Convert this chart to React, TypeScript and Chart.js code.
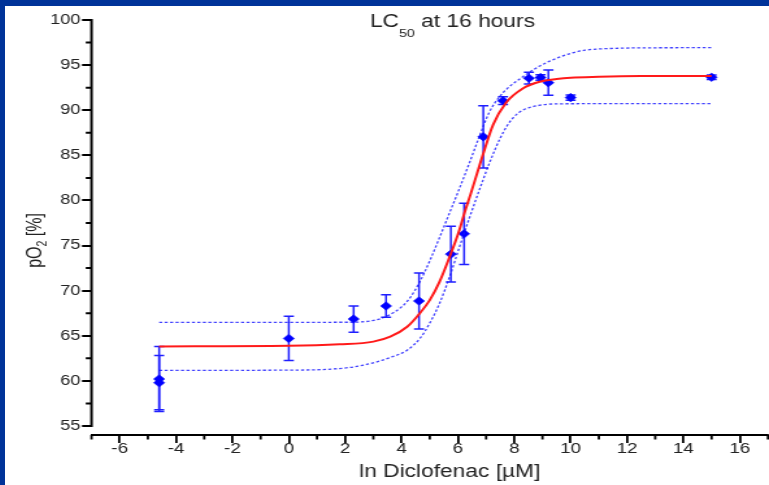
import { useEffect, useRef } from 'react';
import { Chart, registerables } from 'chart.js';

Chart.register(...registerables);

// ---------- data ----------
const X_MIN = -7;
const X_MAX = 17;
const Y_MIN = 54;
const Y_MAX = 100;
const X_TICKS = [-6, -4, -2, 0, 2, 4, 6, 8, 10, 12, 14, 16];
const X_MINOR = [-7, -5, -3, -1, 1, 3, 5, 7, 9, 11, 13, 15, 17];
const Y_TICKS = [55, 60, 65, 70, 75, 80, 85, 90, 95, 100];
const Y_MINOR = [57.5, 62.5, 67.5, 72.5, 77.5, 82.5, 87.5, 92.5, 97.5];

const PT_X = [-4.6, -4.6, 0.0, 2.3, 3.45, 4.62, 5.75, 6.22, 6.9, 7.6, 8.52, 8.93, 9.21, 10.0, 15.0];
const PT_Y = [60.2, 59.8, 64.7, 66.85, 68.3, 68.85, 74.05, 76.3, 87.05, 91.05, 93.55, 93.62, 93.05, 91.4, 93.65];
const PT_ERR = [3.6, 3.0, 2.45, 1.45, 1.25, 3.1, 3.1, 3.4, 3.45, 0.43, 0.65, 0.3, 1.4, 0.3, 0.25];

const FIT_X = [-4.6, 0, 1.8, 3.0, 3.6, 4.2, 4.65, 5.0, 5.35, 5.7, 6.05, 6.25, 6.45, 6.7, 6.9, 7.25, 7.7, 8.3, 8.9, 9.5, 10.0, 11.0, 12.5, 15.0];
const FIT_Y = [63.82, 63.88, 64.05, 64.35, 64.9, 66.0, 67.5, 68.95, 71.0, 73.7, 76.7, 78.8, 80.7, 83.2, 85.2, 88.4, 90.8, 92.4, 93.15, 93.45, 93.6, 93.7, 93.78, 93.8];

const UP_X = [-4.6, 2.2, 3.0, 3.5, 4.0, 4.3, 4.65, 5.0, 5.35, 5.7, 6.05, 6.4, 6.75, 7.1, 7.45, 7.75, 8.3, 8.9, 9.5, 10.0, 10.5, 11.6, 13.0, 15.0];
const UP_Y = [66.48, 66.5, 66.7, 67.2, 68.2, 69.2, 71.0, 73.3, 75.9, 78.6, 81.3, 84.1, 87.0, 89.7, 91.4, 92.4, 93.7, 94.9, 95.75, 96.3, 96.65, 96.86, 96.92, 96.93];

const LO_X = [-4.6, 0.4, 2.2, 3.0, 3.6, 4.2, 4.65, 5.0, 5.35, 5.7, 6.05, 6.4, 6.8, 7.15, 7.5, 7.75, 8.0, 8.3, 8.9, 9.5, 10.5, 15.0];
const LO_Y = [61.16, 61.2, 61.5, 62.0, 62.6, 63.4, 64.7, 66.4, 68.6, 71.5, 74.8, 78.0, 81.5, 84.4, 86.9, 88.3, 89.3, 90.0, 90.55, 90.7, 90.72, 90.72];

const TITLE_MAIN = 'LC';
const TITLE_SUB = '50';
const TITLE_REST = ' at 16 hours';
const Y_TITLE_A = 'pO';
const Y_TITLE_SUB = '2';
const Y_TITLE_B = ' [%]';
const X_TITLE = 'ln Diclofenac [\u00B5M]';

// ---------- layout / style ----------
const S = 764 / 588;
const FONT = "'Liberation Sans', Arial, Helvetica, sans-serif";
const TEXT = '#222';

const pairs = (xs: number[], ys: number[]) => xs.map((x, i) => ({ x, y: ys[i] }));

const decorPlugin = {
  id: 'decor',
  beforeDatasetsDraw(chart: any) {
    const { ctx, scales } = chart;
    const x = scales.x;
    const y = scales.y;
    ctx.save();
    ctx.strokeStyle = '#1f1fff';
    ctx.lineWidth = 1.5;
    const cap = 3.9;
    PT_X.forEach((xv, i) => {
      const px = x.getPixelForValue(xv);
      const top = y.getPixelForValue(PT_Y[i] + PT_ERR[i]);
      const bot = y.getPixelForValue(PT_Y[i] - PT_ERR[i]);
      ctx.beginPath();
      ctx.moveTo(px, top);
      ctx.lineTo(px, bot);
      ctx.moveTo(px - cap, top);
      ctx.lineTo(px + cap, top);
      ctx.moveTo(px - cap, bot);
      ctx.lineTo(px + cap, bot);
      ctx.stroke();
    });
    ctx.restore();
  },
  afterDraw(chart: any) {
    const { ctx, chartArea, scales } = chart;
    const x = scales.x;
    const y = scales.y;
    ctx.save();
    ctx.strokeStyle = '#000';
    // y axis line from 100 down to 55
    ctx.lineWidth = 2;
    ctx.beginPath();
    ctx.moveTo(chartArea.left, y.getPixelForValue(Y_TICKS[Y_TICKS.length - 1]) - 1);
    ctx.lineTo(chartArea.left, y.getPixelForValue(Y_TICKS[0]) + 1);
    ctx.stroke();
    // y minor ticks
    ctx.beginPath();
    Y_MINOR.forEach((v) => {
      const py = y.getPixelForValue(v);
      ctx.moveTo(chartArea.left - 4.4, py);
      ctx.lineTo(chartArea.left, py);
    });
    ctx.stroke();
    // x minor ticks
    ctx.lineWidth = 1.8;
    ctx.beginPath();
    X_MINOR.forEach((v) => {
      const px = x.getPixelForValue(v);
      ctx.moveTo(px, chartArea.bottom);
      ctx.lineTo(px, chartArea.bottom + 4.5);
    });
    ctx.stroke();

    ctx.fillStyle = TEXT;
    ctx.textBaseline = 'alphabetic';
    ctx.textAlign = 'left';
    // main title
    ctx.font = `17.5px ${FONT}`;
    const w1 = ctx.measureText(TITLE_MAIN).width;
    const w3 = ctx.measureText(TITLE_REST).width;
    ctx.font = `11px ${FONT}`;
    const w2 = ctx.measureText(TITLE_SUB).width;
    const tcx = 344.4;
    let tx = tcx - (w1 + w2 + w3) / 2;
    ctx.font = `17.5px ${FONT}`;
    ctx.fillText(TITLE_MAIN, tx, 20.5);
    tx += w1;
    ctx.font = `11px ${FONT}`;
    ctx.fillText(TITLE_SUB, tx, 30.5);
    tx += w2;
    ctx.font = `17.5px ${FONT}`;
    ctx.fillText(TITLE_REST, tx, 20.5);

    // x title
    ctx.textAlign = 'center';
    ctx.font = `17.5px ${FONT}`;
    ctx.fillText(X_TITLE, 342.3, 471.3);

    // y title (rotated)
    ctx.textAlign = 'left';
    ctx.translate(27.5, 234.5);
    ctx.rotate(-Math.PI / 2);
    ctx.font = `16px ${FONT}`;
    const a = ctx.measureText(Y_TITLE_A).width;
    const b = ctx.measureText(Y_TITLE_B).width;
    ctx.font = `10.5px ${FONT}`;
    const s = ctx.measureText(Y_TITLE_SUB).width;
    let yx = -(a + s + b) / 2;
    ctx.font = `16px ${FONT}`;
    ctx.fillText(Y_TITLE_A, yx, 0);
    yx += a;
    ctx.font = `10.5px ${FONT}`;
    ctx.fillText(Y_TITLE_SUB, yx, 4);
    yx += s;
    ctx.font = `16px ${FONT}`;
    ctx.fillText(Y_TITLE_B, yx, 0);
    ctx.restore();
  },
};

export default function App() {
  const ref = useRef<HTMLCanvasElement>(null);
  useEffect(() => {
    if (!ref.current) return;
    const bandStyle = {
      showLine: true,
      borderColor: 'rgba(20,20,255,0.8)',
      borderWidth: 1.3,
      borderDash: [2.4, 1.8],
      pointRadius: 0,
      cubicInterpolationMode: 'monotone' as const,
      fill: false,
    };
    const chart = new Chart(ref.current, {
      type: 'scatter',
      data: {
        datasets: [
          { label: 'upper', data: pairs(UP_X, UP_Y), ...bandStyle },
          { label: 'lower', data: pairs(LO_X, LO_Y), ...bandStyle },
          {
            label: 'fit',
            data: pairs(FIT_X, FIT_Y),
            showLine: true,
            borderColor: '#ff1a1a',
            borderWidth: 2,
            pointRadius: 0,
            cubicInterpolationMode: 'monotone',
            fill: false,
          },
          {
            label: 'data',
            data: pairs(PT_X, PT_Y),
            showLine: false,
            pointStyle: 'rectRot',
            pointRadius: 4.3,
            backgroundColor: '#0000ff',
            borderColor: '#0000ff',
            borderWidth: 0.5,
          },
        ],
      },
      options: {
        animation: false,
        responsive: true,
        maintainAspectRatio: false,
        devicePixelRatio: 1,
        layout: { autoPadding: false, padding: { left: 0, right: 0.8, top: 14, bottom: 0 } },
        plugins: { legend: { display: false }, tooltip: { enabled: false }, title: { display: false } },
        scales: {
          x: {
            type: 'linear',
            min: X_MIN,
            max: X_MAX,
            afterBuildTicks: (sc: any) => {
              sc.ticks = X_TICKS.map((v) => ({ value: v }));
            },
            afterFit: (sc: any) => {
              sc.height = 50;
            },
            border: { display: true, color: '#000', width: 2 },
            grid: { display: true, drawOnChartArea: false, drawTicks: true, tickLength: 8, color: '#000', lineWidth: 1.8 },
            ticks: {
              autoSkip: false,
              maxRotation: 0,
              padding: -3,
              color: TEXT,
              font: { family: FONT, size: 14.5 },
              callback: (v: any) => String(v),
            },
          },
          y: {
            type: 'linear',
            min: Y_MIN,
            max: Y_MAX,
            afterBuildTicks: (sc: any) => {
              sc.ticks = Y_TICKS.map((v) => ({ value: v }));
            },
            afterFit: (sc: any) => {
              sc.width = 66.57;
            },
            border: { display: false },
            grid: { display: true, drawOnChartArea: false, drawTicks: true, tickLength: 7.3, color: '#000', lineWidth: 2 },
            ticks: {
              padding: 1.2,
              color: TEXT,
              font: { family: FONT, size: 14 },
              callback: (v: any) => String(v),
            },
          },
        },
      },
      plugins: [decorPlugin],
    });
    return () => chart.destroy();
  }, []);

  return (
    <div style={{ position: 'fixed', left: 0, top: 0, width: 769, height: 485, background: '#003399', overflow: 'hidden' }}>
      <div style={{ position: 'absolute', left: 5, top: 6, width: 764, height: 479, background: '#ffffff', overflow: 'hidden' }}>
        <div style={{ position: 'absolute', left: 0, top: 0, width: 588, height: 479, transform: `scaleX(${S})`, transformOrigin: '0 0' }}>
          <canvas ref={ref} />
        </div>
      </div>
    </div>
  );
}
